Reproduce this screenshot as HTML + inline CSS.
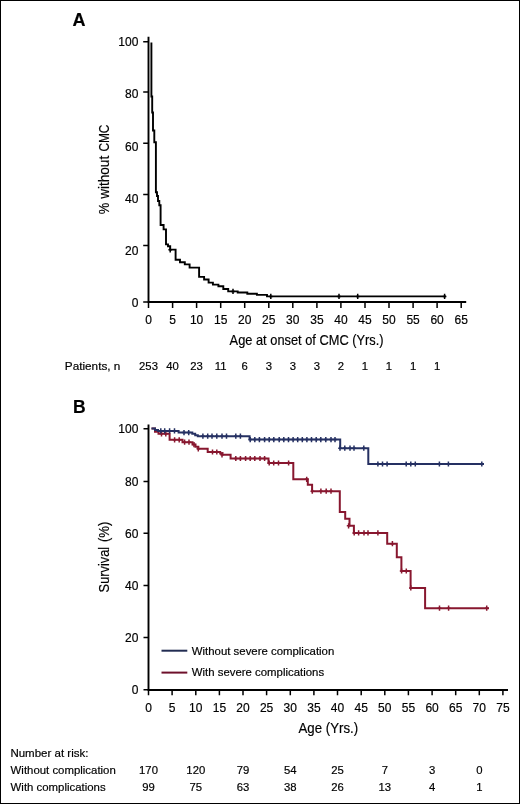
<!DOCTYPE html>
<html><head><meta charset="utf-8"><style>
html,body{margin:0;padding:0;background:#fff;}
svg{display:block;will-change:transform;}
text{font-family:"Liberation Sans", sans-serif;stroke:#000;stroke-width:0.18px;}
</style></head><body>
<svg width="520" height="804" viewBox="0 0 520 804">
<rect x="0" y="0" width="520" height="804" fill="#fff"/>
<rect x="0.5" y="0.5" width="519" height="803" fill="none" stroke="#000" stroke-width="1"/>
<path d="M148.5 36.8 V302.0 H466.2" fill="none" stroke="#000" stroke-width="1.9"/>
<path d="M143.2 41.7 H148.5 M143.2 91.9 H148.5 M143.2 143.2 H148.5 M143.2 194.5 H148.5 M143.2 245.6 H148.5 M143.2 302.1 H148.5 M148.5 302.0 V308.0 M172.6 302.0 V308.0 M196.6 302.0 V308.0 M220.7 302.0 V308.0 M244.7 302.0 V308.0 M268.8 302.0 V308.0 M292.8 302.0 V308.0 M316.9 302.0 V308.0 M340.9 302.0 V308.0 M365.0 302.0 V308.0 M389.0 302.0 V308.0 M413.1 302.0 V308.0 M437.1 302.0 V308.0 M461.2 302.0 V308.0 " fill="none" stroke="#000" stroke-width="1.5"/>
<text x="138.4" y="46.3" font-size="12" text-anchor="end" font-weight="normal" fill="#000" >100</text>
<text x="138.4" y="98.3" font-size="12" text-anchor="end" font-weight="normal" fill="#000" >80</text>
<text x="138.4" y="151.1" font-size="12" text-anchor="end" font-weight="normal" fill="#000" >60</text>
<text x="138.4" y="202.9" font-size="12" text-anchor="end" font-weight="normal" fill="#000" >40</text>
<text x="138.4" y="254.5" font-size="12" text-anchor="end" font-weight="normal" fill="#000" >20</text>
<text x="138.4" y="306.5" font-size="12" text-anchor="end" font-weight="normal" fill="#000" >0</text>
<text x="148.5" y="323.9" font-size="12" text-anchor="middle" font-weight="normal" fill="#000" >0</text>
<text x="172.6" y="323.9" font-size="12" text-anchor="middle" font-weight="normal" fill="#000" >5</text>
<text x="196.6" y="323.9" font-size="12" text-anchor="middle" font-weight="normal" fill="#000" >10</text>
<text x="220.7" y="323.9" font-size="12" text-anchor="middle" font-weight="normal" fill="#000" >15</text>
<text x="244.7" y="323.9" font-size="12" text-anchor="middle" font-weight="normal" fill="#000" >20</text>
<text x="268.8" y="323.9" font-size="12" text-anchor="middle" font-weight="normal" fill="#000" >25</text>
<text x="292.8" y="323.9" font-size="12" text-anchor="middle" font-weight="normal" fill="#000" >30</text>
<text x="316.9" y="323.9" font-size="12" text-anchor="middle" font-weight="normal" fill="#000" >35</text>
<text x="340.9" y="323.9" font-size="12" text-anchor="middle" font-weight="normal" fill="#000" >40</text>
<text x="365.0" y="323.9" font-size="12" text-anchor="middle" font-weight="normal" fill="#000" >45</text>
<text x="389.0" y="323.9" font-size="12" text-anchor="middle" font-weight="normal" fill="#000" >50</text>
<text x="413.1" y="323.9" font-size="12" text-anchor="middle" font-weight="normal" fill="#000" >55</text>
<text x="437.1" y="323.9" font-size="12" text-anchor="middle" font-weight="normal" fill="#000" >60</text>
<text x="461.2" y="323.9" font-size="12" text-anchor="middle" font-weight="normal" fill="#000" >65</text>
<text x="72.4" y="25.5" font-size="18" text-anchor="start" font-weight="bold" fill="#000" >A</text>
<text transform="translate(108.6 214.3) rotate(-90)" x="0" y="0" font-size="14.6" textLength="11.4" lengthAdjust="spacingAndGlyphs">%</text>
<text transform="translate(108.6 198.8) rotate(-90)" x="0" y="0" font-size="14.6" textLength="43.0" lengthAdjust="spacingAndGlyphs">without</text>
<text transform="translate(108.6 151.6) rotate(-90)" x="0" y="0" font-size="14.6" textLength="27.0" lengthAdjust="spacingAndGlyphs">CMC</text>
<text x="229.6" y="344.6" font-size="14.6" text-anchor="start" font-weight="normal" fill="#000" textLength="154" lengthAdjust="spacingAndGlyphs" >Age at onset of CMC (Yrs.)</text>
<text x="64.8" y="369.6" font-size="11.3" text-anchor="start" font-weight="normal" fill="#000" textLength="55.6" lengthAdjust="spacingAndGlyphs" >Patients, n</text>
<text x="148.5" y="369.6" font-size="11.3" text-anchor="middle" font-weight="normal" fill="#000" >253</text>
<text x="172.6" y="369.6" font-size="11.3" text-anchor="middle" font-weight="normal" fill="#000" >40</text>
<text x="196.6" y="369.6" font-size="11.3" text-anchor="middle" font-weight="normal" fill="#000" >23</text>
<text x="220.7" y="369.6" font-size="11.3" text-anchor="middle" font-weight="normal" fill="#000" >11</text>
<text x="244.7" y="369.6" font-size="11.3" text-anchor="middle" font-weight="normal" fill="#000" >6</text>
<text x="268.8" y="369.6" font-size="11.3" text-anchor="middle" font-weight="normal" fill="#000" >3</text>
<text x="292.8" y="369.6" font-size="11.3" text-anchor="middle" font-weight="normal" fill="#000" >3</text>
<text x="316.9" y="369.6" font-size="11.3" text-anchor="middle" font-weight="normal" fill="#000" >3</text>
<text x="340.9" y="369.6" font-size="11.3" text-anchor="middle" font-weight="normal" fill="#000" >2</text>
<text x="365.0" y="369.6" font-size="11.3" text-anchor="middle" font-weight="normal" fill="#000" >1</text>
<text x="389.0" y="369.6" font-size="11.3" text-anchor="middle" font-weight="normal" fill="#000" >1</text>
<text x="413.1" y="369.6" font-size="11.3" text-anchor="middle" font-weight="normal" fill="#000" >1</text>
<text x="437.1" y="369.6" font-size="11.3" text-anchor="middle" font-weight="normal" fill="#000" >1</text>
<path d="M151.4 42.4 L151.4 96.5 L152.2 96.5 L152.2 112.5 L153.0 112.5 L153.0 130.5 L154.3 130.5 L154.3 142.3 L155.9 142.3 L155.9 192.3 L157.0 192.3 L157.0 196.0 L158.0 196.0 L158.0 201.0 L159.3 201.0 L159.3 205.3 L160.6 205.3 L160.6 225.0 L163.6 225.0 L163.6 229.4 L166.0 229.4 L166.0 244.4 L168.0 244.4 L168.0 246.3 L170.2 246.3 L170.2 249.6 L175.6 249.6 L175.6 259.8 L180.0 259.8 L180.0 262.3 L184.8 262.3 L184.8 264.4 L189.6 264.4 L189.6 267.6 L199.1 267.6 L199.1 276.9 L204.1 276.9 L204.1 279.5 L208.6 279.5 L208.6 282.6 L212.9 282.6 L212.9 284.6 L218.4 284.6 L218.4 286.3 L223.3 286.3 L223.3 289.0 L228.2 289.0 L228.2 291.4 L237.7 291.4 L237.7 292.5 L247.3 292.5 L247.3 293.7 L256.9 293.7 L256.9 294.9 L267.0 294.9 L267.0 296.4 L446.0 296.4" fill="none" stroke="#000" stroke-width="1.9" stroke-linejoin="miter"/>
<path d="M170.2 247.2 V252.4 M168.4 249.8 H172.0 M233.0 288.8 V294.0 M231.2 291.4 H234.8 M270.8 293.8 V299.0 M269.0 296.4 H272.6 M339.0 293.8 V299.0 M337.2 296.4 H340.8 M357.7 293.8 V299.0 M355.9 296.4 H359.5 M444.6 293.8 V299.0 M442.8 296.4 H446.4 " fill="none" stroke="#000" stroke-width="1.5"/>
<path d="M148.5 424.5 V690.0 H508" fill="none" stroke="#000" stroke-width="1.9"/>
<path d="M143.5 428.8 H148.5 M143.5 481.4 H148.5 M143.5 533.3 H148.5 M143.5 585.6 H148.5 M143.5 637.4 H148.5 M143.5 689.8 H148.5 M148.5 690.0 V695.3 M172.1 690.0 V695.3 M195.8 690.0 V695.3 M219.4 690.0 V695.3 M243.0 690.0 V695.3 M266.6 690.0 V695.3 M290.3 690.0 V695.3 M313.9 690.0 V695.3 M337.5 690.0 V695.3 M361.2 690.0 V695.3 M384.8 690.0 V695.3 M408.4 690.0 V695.3 M432.1 690.0 V695.3 M455.7 690.0 V695.3 M479.3 690.0 V695.3 M502.9 690.0 V695.3 " fill="none" stroke="#000" stroke-width="1.5"/>
<text x="138.4" y="433.1" font-size="12" text-anchor="end" font-weight="normal" fill="#000" >100</text>
<text x="138.4" y="485.7" font-size="12" text-anchor="end" font-weight="normal" fill="#000" >80</text>
<text x="138.4" y="537.6" font-size="12" text-anchor="end" font-weight="normal" fill="#000" >60</text>
<text x="138.4" y="589.9" font-size="12" text-anchor="end" font-weight="normal" fill="#000" >40</text>
<text x="138.4" y="641.7" font-size="12" text-anchor="end" font-weight="normal" fill="#000" >20</text>
<text x="138.4" y="694.1" font-size="12" text-anchor="end" font-weight="normal" fill="#000" >0</text>
<text x="148.5" y="711.6" font-size="12" text-anchor="middle" font-weight="normal" fill="#000" >0</text>
<text x="172.1" y="711.6" font-size="12" text-anchor="middle" font-weight="normal" fill="#000" >5</text>
<text x="195.8" y="711.6" font-size="12" text-anchor="middle" font-weight="normal" fill="#000" >10</text>
<text x="219.4" y="711.6" font-size="12" text-anchor="middle" font-weight="normal" fill="#000" >15</text>
<text x="243.0" y="711.6" font-size="12" text-anchor="middle" font-weight="normal" fill="#000" >20</text>
<text x="266.6" y="711.6" font-size="12" text-anchor="middle" font-weight="normal" fill="#000" >25</text>
<text x="290.3" y="711.6" font-size="12" text-anchor="middle" font-weight="normal" fill="#000" >30</text>
<text x="313.9" y="711.6" font-size="12" text-anchor="middle" font-weight="normal" fill="#000" >35</text>
<text x="337.5" y="711.6" font-size="12" text-anchor="middle" font-weight="normal" fill="#000" >40</text>
<text x="361.2" y="711.6" font-size="12" text-anchor="middle" font-weight="normal" fill="#000" >45</text>
<text x="384.8" y="711.6" font-size="12" text-anchor="middle" font-weight="normal" fill="#000" >50</text>
<text x="408.4" y="711.6" font-size="12" text-anchor="middle" font-weight="normal" fill="#000" >55</text>
<text x="432.1" y="711.6" font-size="12" text-anchor="middle" font-weight="normal" fill="#000" >60</text>
<text x="455.7" y="711.6" font-size="12" text-anchor="middle" font-weight="normal" fill="#000" >65</text>
<text x="479.3" y="711.6" font-size="12" text-anchor="middle" font-weight="normal" fill="#000" >70</text>
<text x="502.9" y="711.6" font-size="12" text-anchor="middle" font-weight="normal" fill="#000" >75</text>
<text x="73.0" y="412.6" font-size="17.5" text-anchor="start" font-weight="bold" fill="#000" >B</text>
<text transform="translate(108.6 592.4) rotate(-90)" x="0" y="0" font-size="14.6" textLength="45.6" lengthAdjust="spacingAndGlyphs">Survival</text>
<text transform="translate(108.6 542.1) rotate(-90)" x="0" y="0" font-size="14.6" textLength="20.4" lengthAdjust="spacingAndGlyphs">(%)</text>
<text x="298.5" y="732.7" font-size="14.6" text-anchor="start" font-weight="normal" fill="#000" textLength="59.6" lengthAdjust="spacingAndGlyphs" >Age (Yrs.)</text>
<path d="M161.5 650.7 H187.3" stroke="#222c52" stroke-width="2"/>
<path d="M161.5 672.6 H187.3" stroke="#6e102b" stroke-width="2"/>
<text x="191.8" y="654.6" font-size="11.3" text-anchor="start" font-weight="normal" fill="#000" textLength="142.5" lengthAdjust="spacingAndGlyphs" >Without severe complication</text>
<text x="191.8" y="676.3" font-size="11.3" text-anchor="start" font-weight="normal" fill="#000" textLength="132.3" lengthAdjust="spacingAndGlyphs" >With severe complications</text>
<text x="10.4" y="757.1" font-size="11.3" text-anchor="start" font-weight="normal" fill="#000" textLength="78.0" lengthAdjust="spacingAndGlyphs" >Number at risk:</text>
<text x="10.6" y="773.9" font-size="11.3" text-anchor="start" font-weight="normal" fill="#000" textLength="105.2" lengthAdjust="spacingAndGlyphs" >Without complication</text>
<text x="10.6" y="790.8" font-size="11.3" text-anchor="start" font-weight="normal" fill="#000" textLength="95.0" lengthAdjust="spacingAndGlyphs" >With complications</text>
<text x="148.5" y="773.9" font-size="11.3" text-anchor="middle" font-weight="normal" fill="#000" >170</text>
<text x="148.5" y="790.8" font-size="11.3" text-anchor="middle" font-weight="normal" fill="#000" >99</text>
<text x="195.8" y="773.9" font-size="11.3" text-anchor="middle" font-weight="normal" fill="#000" >120</text>
<text x="195.8" y="790.8" font-size="11.3" text-anchor="middle" font-weight="normal" fill="#000" >75</text>
<text x="243.0" y="773.9" font-size="11.3" text-anchor="middle" font-weight="normal" fill="#000" >79</text>
<text x="243.0" y="790.8" font-size="11.3" text-anchor="middle" font-weight="normal" fill="#000" >63</text>
<text x="290.3" y="773.9" font-size="11.3" text-anchor="middle" font-weight="normal" fill="#000" >54</text>
<text x="290.3" y="790.8" font-size="11.3" text-anchor="middle" font-weight="normal" fill="#000" >38</text>
<text x="337.5" y="773.9" font-size="11.3" text-anchor="middle" font-weight="normal" fill="#000" >25</text>
<text x="337.5" y="790.8" font-size="11.3" text-anchor="middle" font-weight="normal" fill="#000" >26</text>
<text x="384.8" y="773.9" font-size="11.3" text-anchor="middle" font-weight="normal" fill="#000" >7</text>
<text x="384.8" y="790.8" font-size="11.3" text-anchor="middle" font-weight="normal" fill="#000" >13</text>
<text x="432.1" y="773.9" font-size="11.3" text-anchor="middle" font-weight="normal" fill="#000" >3</text>
<text x="432.1" y="790.8" font-size="11.3" text-anchor="middle" font-weight="normal" fill="#000" >4</text>
<text x="479.3" y="773.9" font-size="11.3" text-anchor="middle" font-weight="normal" fill="#000" >0</text>
<text x="479.3" y="790.8" font-size="11.3" text-anchor="middle" font-weight="normal" fill="#000" >1</text>
<path d="M151.5 428.6 L155.0 428.6 L155.0 431.8 L158.5 431.8 L158.5 433.8 L169.6 433.8 L169.6 439.8 L182.5 439.8 L182.5 442.2 L192.5 442.2 L192.5 444.6 L195.5 444.6 L195.5 446.8 L198.3 446.8 L198.3 448.8 L207.7 448.8 L207.7 452.0 L220.2 452.0 L220.2 453.4 L222.5 453.2 L222.5 454.8 L230.6 454.8 L230.6 458.5 L268.5 458.5 L268.5 463.0 L293.3 463.0 L293.3 479.3 L307.8 479.3 L307.8 484.7 L312.1 484.7 L312.1 491.2 L339.8 491.2 L339.8 512.0 L345.2 512.0 L345.2 518.8 L349.5 518.8 L349.5 525.8 L353.9 525.8 L353.9 532.9 L387.2 532.9 L387.2 543.7 L396.8 543.7 L396.8 557.2 L401.4 557.2 L401.4 571.0 L410.6 571.0 L410.6 587.9 L425.1 587.9 L425.1 608.2 L489.0 608.2" fill="none" stroke="#88172f" stroke-width="2"/>
<path d="M161.5 431.2 V436.4 M159.7 433.8 H163.3 M165.8 431.2 V436.4 M164.0 433.8 H167.6 M174.6 437.2 V442.4 M172.8 439.8 H176.4 M179.2 437.2 V442.4 M177.4 439.8 H181.0 M184.6 439.6 V444.8 M182.8 442.2 H186.4 M189.0 439.6 V444.8 M187.2 442.2 H190.8 M194.0 442.0 V447.2 M192.2 444.6 H195.8 M198.3 446.2 V451.4 M196.5 448.8 H200.1 M212.5 449.4 V454.6 M210.7 452.0 H214.3 M216.8 449.4 V454.6 M215.0 452.0 H218.6 M222.0 452.2 V457.4 M220.2 454.8 H223.8 M235.8 455.9 V461.1 M234.0 458.5 H237.6 M240.4 455.9 V461.1 M238.6 458.5 H242.2 M245.6 455.9 V461.1 M243.8 458.5 H247.4 M250.2 455.9 V461.1 M248.4 458.5 H252.0 M254.8 455.9 V461.1 M253.0 458.5 H256.6 M260.0 455.9 V461.1 M258.2 458.5 H261.8 M264.6 455.9 V461.1 M262.8 458.5 H266.4 M269.2 460.4 V465.6 M267.4 463.0 H271.0 M273.7 460.4 V465.6 M271.9 463.0 H275.5 M278.5 460.4 V465.6 M276.7 463.0 H280.3 M288.6 460.4 V465.6 M286.8 463.0 H290.4 M306.7 476.7 V481.9 M304.9 479.3 H308.5 M312.3 488.6 V493.8 M310.5 491.2 H314.1 M320.9 488.6 V493.8 M319.1 491.2 H322.7 M326.2 488.6 V493.8 M324.4 491.2 H328.0 M331.0 488.6 V493.8 M329.2 491.2 H332.8 M348.6 523.2 V528.4 M346.8 525.8 H350.4 M354.2 530.3 V535.5 M352.4 532.9 H356.0 M358.6 530.3 V535.5 M356.8 532.9 H360.4 M364.0 530.3 V535.5 M362.2 532.9 H365.8 M368.0 530.3 V535.5 M366.2 532.9 H369.8 M377.9 530.3 V535.5 M376.1 532.9 H379.7 M392.4 541.1 V546.3 M390.6 543.7 H394.2 M401.6 568.4 V573.6 M399.8 571.0 H403.4 M406.3 568.4 V573.6 M404.5 571.0 H408.1 M410.8 585.3 V590.5 M409.0 587.9 H412.6 M439.5 605.6 V610.8 M437.7 608.2 H441.3 M448.6 605.6 V610.8 M446.8 608.2 H450.4 M486.7 605.6 V610.8 M484.9 608.2 H488.5 " fill="none" stroke="#88172f" stroke-width="1.5"/>
<path d="M151.5 428.6 L155.0 428.6 L155.0 429.9 L158.0 429.9 L158.0 430.9 L178.6 430.9 L178.6 432.6 L192.3 432.6 L192.3 433.8 L195.2 433.8 L195.2 435.2 L197.8 435.2 L197.8 436.2 L249.6 436.2 L249.6 439.6 L340.2 439.6 L340.2 448.2 L368.3 448.2 L368.3 464.0 L484.0 464.0" fill="none" stroke="#253062" stroke-width="2"/>
<path d="M160.8 428.3 V433.5 M159.0 430.9 H162.6 M164.7 428.3 V433.5 M162.9 430.9 H166.5 M169.6 428.3 V433.5 M167.8 430.9 H171.4 M174.5 428.3 V433.5 M172.7 430.9 H176.3 M184.0 430.0 V435.2 M182.2 432.6 H185.8 M188.7 430.0 V435.2 M186.9 432.6 H190.5 M202.9 433.6 V438.8 M201.1 436.2 H204.7 M207.7 433.6 V438.8 M205.9 436.2 H209.5 M212.0 433.6 V438.8 M210.2 436.2 H213.8 M216.8 433.6 V438.8 M215.0 436.2 H218.6 M222.0 433.6 V438.8 M220.2 436.2 H223.8 M226.5 433.6 V438.8 M224.7 436.2 H228.3 M235.8 433.6 V438.8 M234.0 436.2 H237.6 M240.4 433.6 V438.8 M238.6 436.2 H242.2 M250.2 437.0 V442.2 M248.4 439.6 H252.0 M254.8 437.0 V442.2 M253.0 439.6 H256.6 M259.4 437.0 V442.2 M257.6 439.6 H261.2 M264.6 437.0 V442.2 M262.8 439.6 H266.4 M269.2 437.0 V442.2 M267.4 439.6 H271.0 M273.8 437.0 V442.2 M272.0 439.6 H275.6 M279.2 437.0 V442.2 M277.4 439.6 H281.0 M283.8 437.0 V442.2 M282.0 439.6 H285.6 M288.5 437.0 V442.2 M286.7 439.6 H290.3 M293.1 437.0 V442.2 M291.3 439.6 H294.9 M297.7 437.0 V442.2 M295.9 439.6 H299.5 M302.3 437.0 V442.2 M300.5 439.6 H304.1 M306.9 437.0 V442.2 M305.1 439.6 H308.7 M311.5 437.0 V442.2 M309.7 439.6 H313.3 M316.2 437.0 V442.2 M314.4 439.6 H318.0 M320.8 437.0 V442.2 M319.0 439.6 H322.6 M325.8 437.0 V442.2 M324.0 439.6 H327.6 M331.0 437.0 V442.2 M329.2 439.6 H332.8 M335.0 437.0 V442.2 M333.2 439.6 H336.8 M340.0 445.6 V450.8 M338.2 448.2 H341.8 M344.8 445.6 V450.8 M343.0 448.2 H346.6 M350.0 445.6 V450.8 M348.2 448.2 H351.8 M354.0 445.6 V450.8 M352.2 448.2 H355.8 M363.8 445.6 V450.8 M362.0 448.2 H365.6 M377.9 461.4 V466.6 M376.1 464.0 H379.7 M382.5 461.4 V466.6 M380.7 464.0 H384.3 M387.1 461.4 V466.6 M385.3 464.0 H388.9 M406.2 461.4 V466.6 M404.4 464.0 H408.0 M410.8 461.4 V466.6 M409.0 464.0 H412.6 M415.3 461.4 V466.6 M413.5 464.0 H417.1 M439.4 461.4 V466.6 M437.6 464.0 H441.2 M448.4 461.4 V466.6 M446.6 464.0 H450.2 M481.8 461.4 V466.6 M480.0 464.0 H483.6 " fill="none" stroke="#253062" stroke-width="1.5"/>
</svg>
</body></html>
